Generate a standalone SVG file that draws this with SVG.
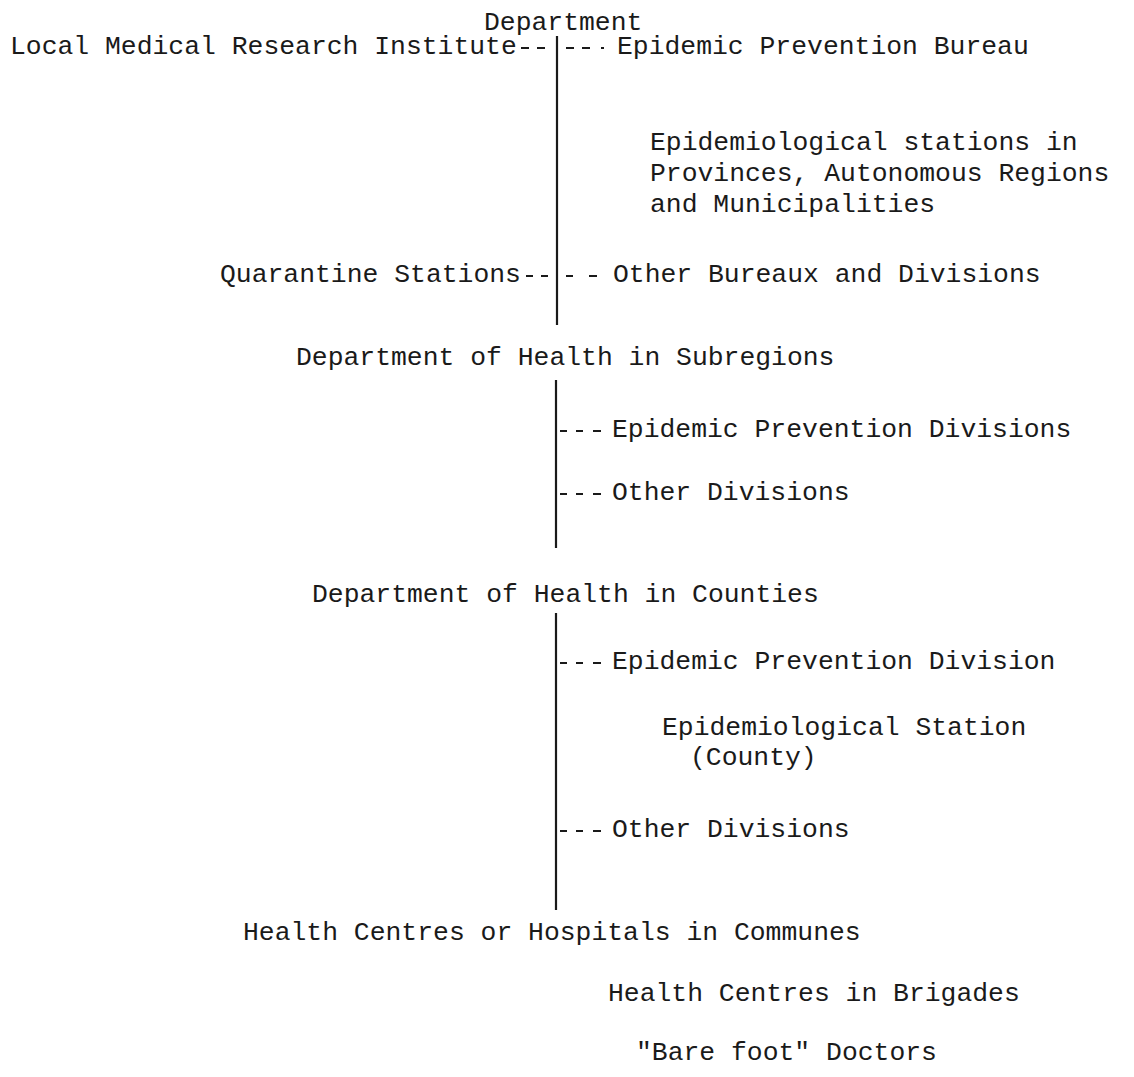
<svg xmlns="http://www.w3.org/2000/svg" width="1134" height="1077" viewBox="0 0 1134 1077">
<style>
text{font-family:"Liberation Mono","Courier New",monospace;font-size:26.4px;fill:#1a1a1a}
.v{stroke:#1a1a1a;stroke-width:2.2;fill:none}
.d{stroke:#1a1a1a;stroke-width:1.8;fill:none}
</style>
<rect width="1134" height="1077" fill="#fff"/>
<g id="connectors">
<line class="v" x1="557" y1="36" x2="557" y2="325"/>
<line class="v" x1="556" y1="380" x2="556" y2="548"/>
<line class="v" x1="556" y1="613" x2="556" y2="910"/>
<path class="d" d="M521 48h8M537 48h8M566 48h8M582 48h8M601 48h3"/>
<path class="d" d="M526 276h7M541 276h7M566 276h7M589 276h8"/>
<path class="d" d="M560 431h7M576 431h7M593 431h8"/>
<path class="d" d="M560 494h7M576 494h7M593 494h8"/>
<path class="d" d="M560 663h7M576 663h7M593 663h8"/>
<path class="d" d="M560 831h7M576 831h7M593 831h8"/>
</g>
<g id="department"><text x="484" y="30">Department</text></g>
<g id="local-institute"><text x="10" y="54">Local Medical Research Institute</text></g>
<g id="epidemic-bureau"><text x="617" y="54">Epidemic Prevention Bureau</text></g>
<g id="epi-stations"><text x="650" y="150">Epidemiological stations in</text><text x="650" y="181">Provinces, Autonomous Regions</text><text x="650" y="212">and Municipalities</text></g>
<g id="quarantine"><text x="220" y="282">Quarantine Stations</text></g>
<g id="other-bureaux"><text x="613" y="282">Other Bureaux and Divisions</text></g>
<g id="dept-subregions"><text x="296" y="365">Department of Health in Subregions</text></g>
<g id="epd-subregions"><text x="612" y="437">Epidemic Prevention Divisions</text></g>
<g id="other-div-1"><text x="612" y="500">Other Divisions</text></g>
<g id="dept-counties"><text x="312" y="602">Department of Health in Counties</text></g>
<g id="epd-county"><text x="612" y="669">Epidemic Prevention Division</text></g>
<g id="epi-station-county"><text x="662" y="735">Epidemiological Station</text><text x="690" y="765">(County)</text></g>
<g id="other-div-2"><text x="612" y="837">Other Divisions</text></g>
<g id="communes"><text x="243" y="940">Health Centres or Hospitals in Communes</text></g>
<g id="brigades"><text x="608" y="1001">Health Centres in Brigades</text></g>
<g id="barefoot"><text x="636" y="1060">"Bare foot" Doctors</text></g>
</svg>
